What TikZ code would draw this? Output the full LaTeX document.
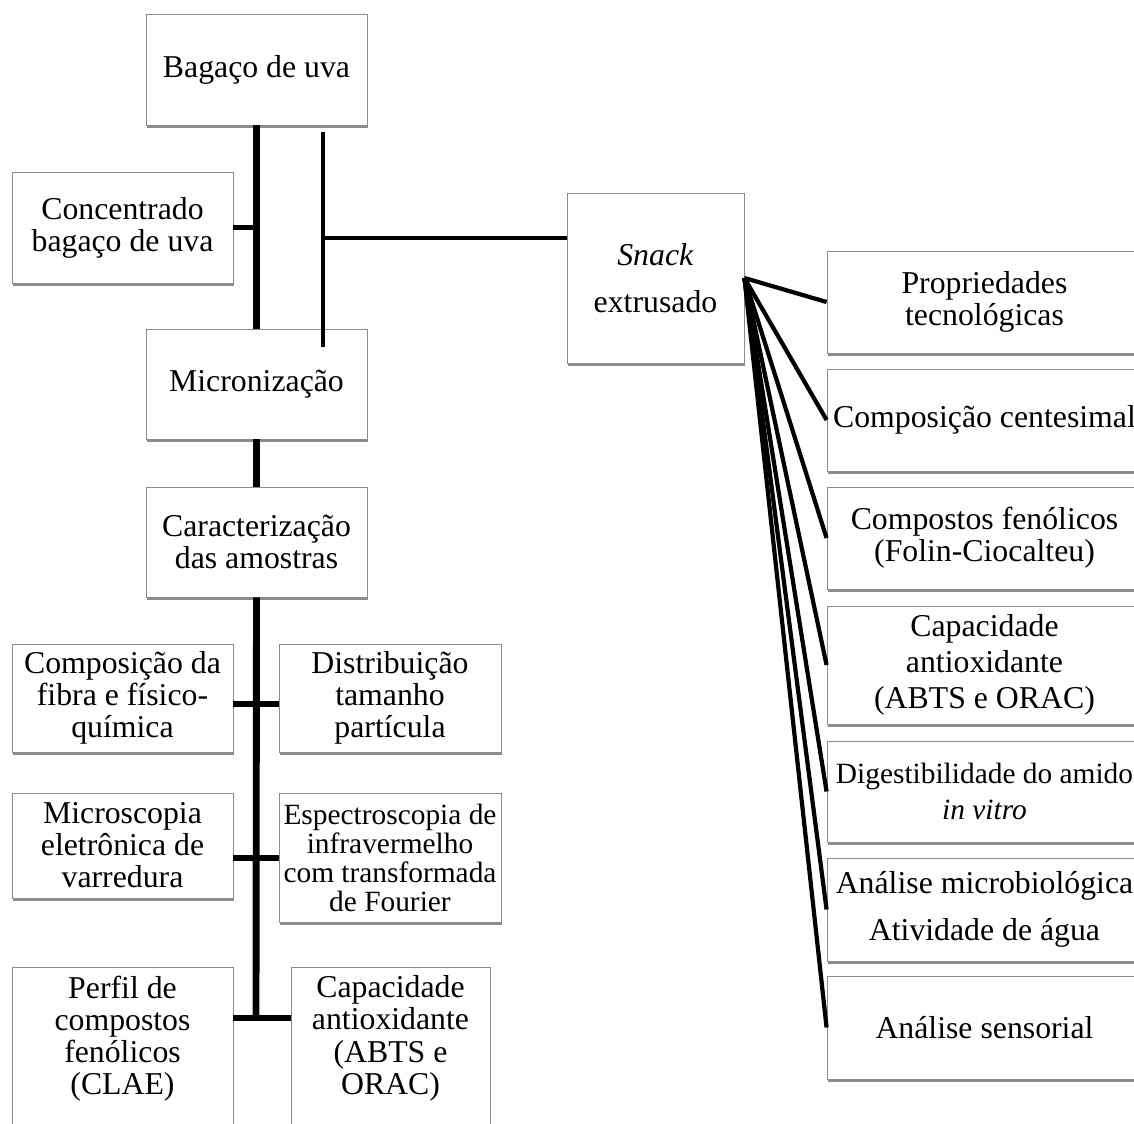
\documentclass[tikz,border=0pt]{standalone}
\usepackage{fontspec}
\setmainfont{Liberation Serif}
\usetikzlibrary{shadows}

\tikzset{
	caixa/.style={draw=black!45, fill=white, line width=0.6pt, align=center, inner sep=0pt,
		font=\fontsize{22.6}{22.8}\selectfont,
		drop shadow={shadow xshift=0.6pt, shadow yshift=-1.8pt, fill=black, opacity=0.45}},
	menor/.style={font=\fontsize{20.9}{20.6}\selectfont},
	tam/.style 2 args={minimum width=#1*0.025cm, minimum height=#2*0.025cm},
	grosso/.style={line width=4.9pt},
	medio/.style={line width=3.8pt},
	fino/.style={line width=2.5pt},
	leque/.style={line width=3pt},
}

\begin{document}
\begin{tikzpicture}[x=0.025cm, y=-0.025cm]
	\useasboundingbox (0,0) rectangle (1134,1124);
	\clip (0,0) rectangle (1134,1124);
	% coluna da esquerda
	\node[caixa, tam={221}{111}] (bagaco) at (256.5,69.5) {Bagaço de uva};
	\node[caixa, tam={221}{111}] (concentrado) at (122.5,227.5) {Concentrado\\bagaço de uva};
	\node[caixa, tam={221}{110}] (micro) at (256.5,384) {Micronização};
	\node[caixa, tam={221}{110}] (caract) at (256.5,542) {Caracterização\\das amostras};
	\node[caixa, tam={221}{108}] (compfibra) at (122.5,698) {Composição da\\fibra e físico-\\química};
	\node[caixa, tam={222}{108}] (distrib) at (390,698) {Distribuição\\tamanho\\partícula};
	\node[caixa, tam={221}{105}] (microscopia) at (122.5,845.5) {Microscopia\\eletrônica de\\varredura};
	\node[caixa, menor, tam={222}{129}] (espectro) at (390,857.5) {Espectroscopia de\\infravermelho\\com transformada\\de Fourier};
	\node[caixa, tam={221}{168}] (perfil) at (122.5,1051) {Perfil de\\compostos\\fenólicos\\(CLAE)\\ \mbox{}};
	\node[caixa, tam={199}{168}] (capesq) at (390.5,1051) {Capacidade\\antioxidante\\(ABTS e\\ORAC)\\ \mbox{}};
	% snack e analises
	\node[caixa, tam={177}{170}] (snack) at (655.5,278) {\textit{Snack}\\[10.6pt]extrusado};
	\node[caixa, tam={315}{102}] (propr) at (984.5,302) {Propriedades\\tecnológicas};
	\node[caixa, tam={315}{102}] (centesimal) at (984.5,420) {Composição centesimal};
	\node[caixa, tam={315}{102}] (fenolicos) at (984.5,538) {Compostos fenólicos\\(Folin-Ciocalteu)};
	\node[caixa, tam={315}{118}] (capdir) at (984.5,665) {Capacidade\\[2.8pt]antioxidante\\[2.8pt](ABTS e ORAC)};
	\node[caixa, menor, tam={315}{101}] (digest) at (984.5,791.5) {Digestibilidade do amido\\[4.9pt]\textit{in vitro}};
	\node[caixa, tam={315}{103}] (analise) at (984.5,909.5) {Análise microbiológica\\[10.6pt]Atividade de água};
	\node[caixa, tam={315}{103}] (sensorial) at (984.5,1027.5) {Análise sensorial};

	\coordinate (f1) at (323,132);
	\coordinate (f2) at (323,347);
	\coordinate (f3) at (323,238);
	\coordinate (j1) at (256,704);
	\coordinate (j2) at (256,858);
	\coordinate (j3) at (256,1018);

	\draw[grosso] (bagaco.south) -- (micro.north);
	\draw[medio] (concentrado.east) -- (concentrado.east -| bagaco.south);
	\draw[fino] (f1) -- (f2);
	\draw[fino] (f3) -- (f3 -| snack.west);
	\draw[grosso] (micro.south) -- (caract.north);
	\draw[grosso] (caract.south) -- (j3);
	\draw[medio] (j1 -| compfibra.east) -- (j1 -| distrib.west);
	\draw[medio] (j2 -| microscopia.east) -- (j2 -| espectro.west);
	\draw[medio] (j3 -| perfil.east) -- (j3 -| capesq.west);
	\foreach \alvo in {propr,centesimal,fenolicos,capdir,digest,analise,sensorial}
		\draw[leque] (snack.east) -- (\alvo.west);
\end{tikzpicture}
\end{document}
